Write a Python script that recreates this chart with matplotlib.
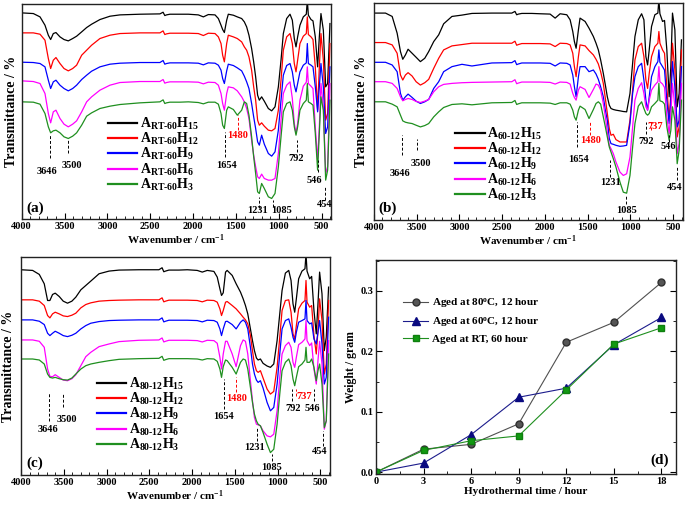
import numpy as np
import matplotlib.pyplot as plt
from matplotlib.ticker import MultipleLocator

plt.rcParams['font.family'] = 'Liberation Serif'
plt.rcParams['font.weight'] = 'bold'
plt.rcParams['axes.labelweight'] = 'bold'
plt.rcParams['mathtext.fontset'] = 'custom'
plt.rcParams['mathtext.rm'] = 'Liberation Serif:bold'
plt.rcParams['mathtext.it'] = 'Liberation Serif:bold'
plt.rcParams['mathtext.bf'] = 'Liberation Serif:bold'

# shared wavenumber grid (cm-1) for the three FTIR panels
wavenumber = [4000, 3864, 3786, 3728, 3689, 3662, 3631, 3600, 3553, 3506,
              3456, 3405, 3359, 3300, 3242, 3184, 3087, 2970, 2853, 2620,
              2387, 2350, 2330, 2310, 2270, 2153, 2055, 1939, 1880,
              1822, 1744, 1705, 1674, 1655, 1635, 1608, 1589, 1530, 1484,
              1433, 1402, 1375, 1348, 1317, 1293, 1270, 1247, 1227, 1200,
              1169, 1122, 1083, 1044, 1005, 974, 947, 908, 869, 842, 819,
              799, 780, 753, 714, 679, 667, 655, 624, 601, 574, 547,
              527, 508, 480, 453, 430, 403]

# panel (a): A_RT-60 samples, transmittance in arbitrary units (offset curves)
a_h15 = [620, 618, 608, 583, 553, 540, 558, 561, 548, 540,
         536, 543, 550, 563, 576, 586, 600, 610, 614, 616,
         617, 622, 612, 614, 616, 616, 616, 614, 608,
         615, 614, 603, 583, 570, 561, 598, 616, 613, 608,
         603, 593, 578, 553, 513, 473, 428, 373, 358, 368,
         355, 333, 326, 338, 398, 478, 558, 603, 616, 598, 543,
         518, 548, 583, 608, 616, 658, 613, 600, 596, 548, 458,
         548, 618, 568, 398, 408, 588]
a_h12 = [560, 560, 556, 538, 483, 453, 478, 486, 468, 453,
         446, 453, 463, 493, 508, 523, 543, 553, 558, 560,
         560, 566, 555, 557, 559, 559, 559, 558, 552,
         559, 558, 548, 528, 493, 473, 528, 553, 548, 543,
         533, 518, 508, 488, 448, 398, 358, 298, 283, 290,
         280, 268, 266, 273, 328, 418, 508, 548, 558, 528, 468,
         443, 478, 528, 550, 558, 608, 555, 548, 540, 458, 328,
         458, 558, 478, 298, 318, 528]
a_h9 = [472, 471, 468, 458, 418, 393, 413, 418, 403, 393,
        386, 393, 403, 420, 433, 445, 458, 466, 469, 471,
        471, 477, 466, 468, 470, 470, 470, 469, 464,
        470, 469, 463, 448, 423, 408, 446, 466, 462, 455,
        446, 430, 413, 393, 348, 308, 273, 233, 223, 253,
        226, 198, 190, 203, 268, 358, 433, 462, 468, 443, 403,
        383, 408, 443, 463, 470, 528, 468, 463, 458, 398, 323,
        398, 468, 398, 258, 278, 458]
a_h6 = [416, 414, 408, 378, 318, 290, 323, 328, 303, 286,
        278, 286, 296, 323, 353, 368, 388, 403, 411, 414,
        414, 420, 409, 411, 413, 413, 413, 412, 407,
        412, 411, 403, 378, 348, 328, 378, 398, 395, 386,
        368, 353, 333, 303, 238, 193, 158, 128, 123, 136,
        123, 118, 118, 123, 198, 298, 378, 403, 413, 363, 288,
        258, 288, 358, 400, 412, 458, 408, 400, 393, 278, 178,
        278, 408, 338, 138, 158, 408]
a_h3 = [353, 352, 346, 318, 278, 260, 266, 268, 260, 248,
        243, 250, 260, 283, 310, 320, 333, 340, 345, 350,
        353, 359, 348, 350, 352, 352, 353, 351, 347,
        352, 352, 346, 318, 283, 273, 328, 338, 330, 313,
        328, 353, 348, 313, 248, 188, 138, 83, 78, 108,
        93, 68, 63, 78, 158, 248, 323, 348, 353, 328, 278,
        253, 278, 328, 348, 358, 408, 353, 348, 343, 258, 148,
        258, 368, 328, 118, 148, 358]

# panel (b): A_60-12 samples
b_h15 = [618, 618, 608, 558, 503, 480, 493, 510, 498, 486,
         473, 483, 503, 533, 553, 586, 608, 612, 617, 618,
         618, 623, 613, 615, 617, 617, 616, 615, 603,
         616, 613, 598, 563, 533, 513, 568, 603, 593, 573,
         548, 528, 508, 478, 438, 403, 368, 343, 333, 330,
         328, 326, 324, 323, 378, 468, 548, 598, 616, 598, 488,
         463, 508, 578, 613, 618, 658, 616, 593, 596, 508, 368,
         458, 618, 568, 338, 378, 538]
b_h12 = [530, 530, 523, 498, 433, 418, 433, 440, 430, 413,
         403, 410, 420, 453, 483, 508, 520, 524, 528, 528,
         528, 534, 522, 524, 527, 527, 527, 526, 518,
         528, 527, 523, 498, 458, 428, 488, 523, 520, 506,
         493, 480, 466, 443, 408, 363, 318, 273, 253, 256,
         240, 233, 233, 233, 298, 388, 478, 518, 528, 488, 418,
         393, 438, 488, 518, 528, 563, 528, 508, 498, 398, 298,
         378, 528, 448, 248, 278, 508]
b_h9 = [471, 471, 463, 443, 378, 358, 368, 376, 366, 355,
        348, 353, 360, 393, 413, 443, 458, 465, 460, 469,
        470, 476, 464, 466, 469, 469, 469, 468, 460,
        469, 468, 463, 433, 398, 368, 428, 458, 458, 443,
        448, 436, 420, 398, 368, 328, 298, 243, 228, 226,
        223, 220, 221, 223, 288, 378, 428, 458, 468, 418, 358,
        328, 368, 428, 458, 473, 508, 471, 458, 448, 358, 288,
        358, 473, 398, 278, 298, 458]
b_h6 = [413, 413, 408, 393, 368, 356, 360, 363, 360, 354,
        351, 355, 360, 383, 398, 405, 408, 410, 411, 412,
        413, 419, 407, 409, 412, 412, 412, 411, 406,
        412, 411, 406, 378, 366, 358, 388, 398, 390, 366,
        390, 406, 403, 388, 348, 308, 263, 223, 213, 198,
        173, 143, 133, 138, 188, 278, 358, 393, 410, 378, 338,
        328, 358, 388, 403, 413, 458, 413, 406, 396, 308, 258,
        318, 408, 338, 198, 228, 408]
b_h3 = [353, 353, 346, 338, 313, 296, 292, 290, 288, 283,
        278, 282, 288, 308, 323, 336, 345, 347, 344, 350,
        351, 357, 345, 347, 350, 350, 350, 349, 345,
        350, 350, 346, 328, 308, 298, 328, 340, 330, 303,
        330, 348, 353, 346, 308, 278, 248, 218, 203, 183,
        158, 113, 83, 80, 133, 218, 288, 340, 353, 333, 318,
        313, 318, 338, 348, 358, 408, 356, 353, 346, 278, 238,
        268, 338, 298, 168, 208, 358]

# panel (c): A_80-12 samples
c_h15 = [614, 612, 600, 572, 522, 522, 540, 544, 534, 520,
         514, 520, 532, 554, 567, 580, 602, 610, 613, 614,
         614, 620, 608, 610, 613, 613, 614, 612, 607,
         612, 609, 592, 557, 537, 545, 607, 612, 597, 572,
         547, 527, 507, 482, 437, 402, 372, 350, 344, 347,
         334, 326, 322, 332, 402, 482, 552, 604, 612, 582, 512,
         487, 527, 587, 610, 617, 662, 610, 587, 594, 492, 422,
         512, 607, 542, 372, 412, 562]
c_h12 = [524, 524, 520, 507, 477, 470, 482, 487, 482, 476,
         474, 478, 484, 500, 510, 515, 520, 522, 523, 524,
         524, 530, 518, 520, 523, 523, 523, 522, 518,
         523, 522, 517, 497, 477, 492, 517, 519, 507, 497,
         482, 472, 464, 452, 417, 372, 332, 312, 307, 312,
         290, 257, 242, 250, 322, 412, 492, 522, 524, 487, 422,
         407, 447, 497, 514, 522, 582, 517, 502, 507, 417, 362,
         432, 527, 462, 302, 332, 522]
c_h9 = [464, 464, 460, 450, 424, 417, 424, 430, 424, 417,
        414, 418, 424, 437, 447, 454, 459, 462, 463, 464,
        464, 470, 458, 460, 463, 463, 463, 462, 458,
        463, 462, 457, 437, 417, 437, 459, 460, 450, 437,
        457, 464, 457, 437, 382, 332, 302, 284, 277, 282,
        260, 217, 192, 202, 272, 362, 437, 462, 467, 442, 412,
        397, 427, 457, 462, 467, 522, 462, 452, 455, 407, 392,
        427, 462, 392, 272, 292, 472]
c_h6 = [404, 404, 400, 382, 317, 295, 294, 300, 292, 284,
        282, 288, 300, 327, 354, 367, 384, 392, 399, 403,
        404, 410, 398, 400, 403, 403, 403, 402, 398,
        403, 402, 394, 352, 317, 362, 400, 400, 362, 324,
        387, 404, 400, 362, 282, 222, 172, 152, 150, 147,
        132, 117, 114, 122, 192, 292, 362, 387, 397, 382, 337,
        322, 352, 390, 397, 407, 462, 402, 387, 395, 317, 272,
        342, 400, 332, 137, 162, 402]
c_h3 = [347, 347, 344, 332, 302, 292, 290, 292, 288, 285,
        284, 290, 302, 317, 327, 332, 337, 342, 346, 348,
        349, 355, 343, 345, 348, 348, 348, 347, 344,
        348, 347, 340, 317, 292, 324, 344, 342, 322, 302,
        337, 347, 344, 317, 262, 217, 182, 162, 152, 147,
        127, 92, 67, 77, 152, 242, 312, 337, 347, 327, 287,
        267, 292, 324, 332, 344, 382, 337, 337, 347, 322, 282,
        312, 332, 272, 142, 162, 362]

# peak marks: label, line x, line y0, line y1, text x, text y, red?
peaks_a = [('3646', 3665, 183, 253, 3700, 143, False),
           ('3500', 3465, 198, 238, 3417, 163, False),
           ('1654', 1628, 188, 263, 1608, 161, False),
           ('1480', 1472, 268, 313, 1480, 253, True),
           ('1231', 1227, 33, 68, 1250, 26, False),
           ('1085', 1064, 38, 58, 962, 28, False),
           ('792', 792, 203, 238, 792, 183, False),
           ('546', 547, 143, 178, 580, 118, False),
           ('454', 461, 58, 98, 470, 46, False)]
peaks_b = [('3646', 3668, 193, 253, 3690, 138, False),
           ('3500', 3492, 208, 243, 3453, 168, False),
           ('1654', 1626, 218, 293, 1606, 180, False),
           ('1480', 1470, 253, 293, 1470, 236, True),
           ('1231', 1237, 128, 178, 1237, 113, False),
           ('1085', 1050, 48, 73, 1050, 28, False),
           ('792', 817, 258, 293, 817, 233, False),
           ('737', 762, 268, 293, 712, 278, True),
           ('546', 544, 233, 253, 556, 218, False),
           ('454', 451, 118, 158, 478, 98, False)]
peaks_c = [('3646', 3673, 162, 247, 3680, 137, False),
           ('3500', 3506, 202, 242, 3467, 167, False),
           ('1654', 1631, 197, 287, 1627, 174, False),
           ('1480', 1487, 247, 292, 1483, 230, True),
           ('1231', 1242, 102, 142, 1270, 82, False),
           ('1085', 1067, 42, 62, 1067, 22, False),
           ('792', 834, 222, 257, 822, 200, False),
           ('737', 783, 237, 257, 686, 234, True),
           ('546', 570, 222, 257, 589, 200, False),
           ('454', 465, 87, 132, 504, 69, False)]

# panel (d): weight vs hydrothermal time
hours = [0, 3, 6, 9, 12, 15, 18]
w_80 = [0.0, 0.038, 0.046, 0.080, 0.215, 0.248, 0.314]
w_60 = [0.0, 0.015, 0.062, 0.124, 0.139, 0.211, 0.256]
w_rt = [0.0, 0.036, 0.052, 0.060, 0.136, 0.212, 0.239]

colors = ['black', '#ff0000', '#0000ff', '#ff00ff', '#1f8f1f']
subs = ['15', '12', '9', '6', '3']

fig = plt.figure(figsize=(6.86, 5.08), dpi=100)


def style_frame(ax):
    for s in ax.spines.values():
        s.set_linewidth(1.0)
        s.set_color('#222222')


def draw_spectra(ax, curves, prefix, peaks, tag, leg_anchor, ytop, ylab_x):
    for y, c, s in zip(curves, colors, subs):
        ax.plot(wavenumber, y, color=c, lw=0.9,
                label=r'$A_{%s}H_{%s}$' % (prefix, s))
    for lab, xl, y0, y1, xt, yt, red in peaks:
        col = '#ff0000' if red else 'black'
        ax.plot([xl, xl], [y0, y1], ls=(0, (3, 2)), color=col, lw=0.7)
        ax.text(xt, yt, lab, ha='center', va='center', fontsize=7.5,
                color=col)
    ax.set_xlim(4000, 390)
    ax.set_ylim(0, ytop)
    ax.set_yticks([])
    ax.xaxis.set_major_locator(MultipleLocator(500))
    ax.xaxis.set_minor_locator(MultipleLocator(100))
    ax.tick_params(axis='x', which='major', direction='in', length=4,
                   labelsize=7.5, pad=2)
    ax.tick_params(axis='x', which='minor', direction='in', length=2)
    ax.set_xlabel(r'Wavenumber / cm$^{-1}$', fontsize=8, labelpad=1)
    ax.set_ylabel('Transmittance / %', fontsize=10)
    ax.yaxis.set_label_coords(ylab_x, 0.5)
    ax.text(0.016, 0.052, tag, transform=ax.transAxes, fontsize=11,
            ha='left', va='center')
    leg = ax.legend(loc='upper left', bbox_to_anchor=leg_anchor,
                    frameon=False, fontsize=10, handlelength=2.1,
                    handletextpad=0.2, labelspacing=-0.06, borderpad=0,
                    borderaxespad=0)
    for ln in leg.get_lines():
        ln.set_linewidth(1.6)
    style_frame(ax)


ax_a = fig.add_axes([0.0316, 0.568, 0.451, 0.425])
draw_spectra(ax_a, [a_h15, a_h12, a_h9, a_h6, a_h3], r'\text{RT-60}',
             peaks_a, '(a)', (0.279, 0.48), 648, -0.012)

ax_b = fig.add_axes([0.545, 0.567, 0.450, 0.427])
draw_spectra(ax_b, [b_h15, b_h12, b_h9, b_h6, b_h3], r'\text{60-12}',
             peaks_b, '(b)', (0.264, 0.435), 648, -0.02)

ax_c = fig.add_axes([0.0306, 0.065, 0.450, 0.429])
draw_spectra(ax_c, [c_h15, c_h12, c_h9, c_h6, c_h3], r'\text{80-12}',
             peaks_c, '(c)', (0.246, 0.455), 652, -0.02)

# panel (d)
ax_d = fig.add_axes([0.548, 0.067, 0.437, 0.421])
ax_d.plot(hours, w_80, color='#505050', lw=0.8, marker='o', ms=5,
          mfc='#555555', mec='#303030', label=r'Aged at 80$^{\mathrm{o}}$C, 12 hour')
ax_d.plot(hours, w_60, color='#1c1c8c', lw=0.8, marker='^', ms=5.5,
          mfc='#0a0a80', mec='#0a0a80', label=r'Aged at 60$^{\mathrm{o}}$C, 12 hour')
ax_d.plot(hours, w_rt, color='#1f8f1f', lw=0.8, marker='s', ms=4.5,
          mfc='#129a12', mec='#0f7f0f', label='Aged at RT, 60 hour')
ax_d.set_xlim(0, 18.9)
ax_d.set_ylim(-0.003, 0.351)
ax_d.xaxis.set_major_locator(MultipleLocator(3))
ax_d.xaxis.set_minor_locator(MultipleLocator(1.5))
ax_d.yaxis.set_major_locator(MultipleLocator(0.1))
ax_d.yaxis.set_minor_locator(MultipleLocator(0.05))
ax_d.yaxis.set_major_formatter(plt.FormatStrFormatter('%.1f'))
ax_d.tick_params(which='major', direction='in', length=4, labelsize=7.5,
                 right=True, pad=2)
ax_d.tick_params(which='minor', direction='in', length=2, right=True)
ax_d.set_xlabel('Hydrothermal time / hour', fontsize=8, labelpad=1)
ax_d.set_ylabel('Weight / gram', fontsize=8.5, labelpad=2)
ax_d.text(0.947, 0.062, '(d)', transform=ax_d.transAxes, fontsize=11,
          ha='center', va='center')
ax_d.legend(loc='upper left', bbox_to_anchor=(0.09, 0.83), frameon=False,
            fontsize=8, numpoints=1, handlelength=2.3, handletextpad=0.3,
            labelspacing=0.45, borderpad=0, borderaxespad=0)
style_frame(ax_d)

fig.savefig('out.png', dpi=100)
